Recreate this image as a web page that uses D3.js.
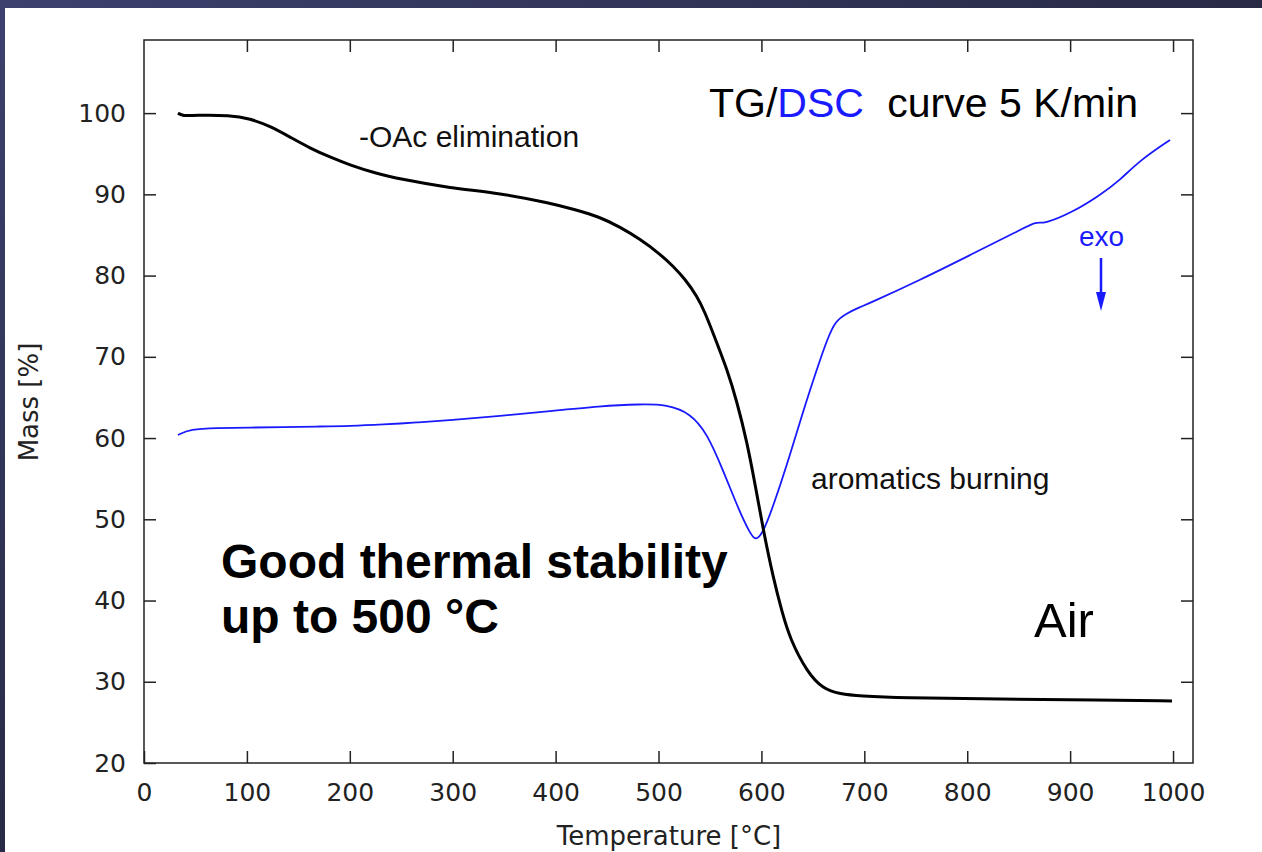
<!DOCTYPE html>
<head>
  <meta charset="utf-8">
  <script src="https://d3js.org/d3.v7.min.js"></script>
  <style>
    body { margin:0; background:#262a4a; overflow:hidden; }
  </style>
</head>
<body>
<script>
  var totalWidth = 1262, totalHeight = 852;

  // TG curve (mass, %) vs temperature (degC)
  var tgTemp = [33, 37.9, 49.6, 83.6, 103, 122.4, 141.9, 161.3, 180.8, 200.2, 224.5, 248.8, 297.4, 346, 394.6,
                418.9, 443.2, 462.6, 482, 501.5, 514.1, 525.8, 537.4, 545.2, 553, 566.6, 576.3, 586, 593.8,
                601.6, 611.3, 620, 627.8, 644.3, 659.9, 676.4, 695.8, 734.7, 831.9, 929.1, 999];
  var tgMass = [100, 99.63, 99.75, 99.75, 99.32, 98.4, 97.05, 95.69, 94.58, 93.6, 92.62, 91.88, 90.77, 90.15, 88.92,
                88.12, 87.2, 85.97, 84.49, 82.65, 81.17, 79.57, 77.47, 75.45, 72.92, 68.49, 64.43, 59.51, 54.34,
                48.8, 42.89, 38.58, 35.26, 31.2, 29.11, 28.49, 28.25, 28.0, 27.88, 27.75, 27.63];

  // DSC curve, drawn on the same axes
  var dscTemp = [33, 44.7, 70.9, 103, 135.1, 168.1, 200.2, 232.3, 265.3, 297.4, 346, 394.6, 443.2, 482, 508.3,
                 530.6, 547.1, 562.7, 579.2, 588.9, 593.8, 600.6, 611.3, 627.8, 640.4, 647.2, 656.9, 663.8, 671.5,
                 683.2, 695.8, 705.5, 754.1, 802.7, 851.3, 867.8, 873.7, 902.8, 929, 948.5, 967.9, 997.1];
  var dscValue = [60.37, 61.11, 61.23, 61.29, 61.35, 61.42, 61.48, 61.66, 61.91, 62.22, 62.71, 63.32, 63.94, 64.18, 64.12,
                  63.08, 60.62, 56.06, 50.77, 48.31, 47.4, 48.06, 51.51, 57.91, 63.2, 65.91, 69.6, 72.06, 74.4,
                  75.38, 76.12, 76.62, 79.45, 82.52, 85.6, 86.7, 86.3, 87.82, 89.9, 91.75, 94.2, 96.7];

  var xTicks = [0, 100, 200, 300, 400, 500, 600, 700, 800, 900, 1000];
  var yTicks = [20, 30, 40, 50, 60, 70, 80, 90, 100];

  var margin = {top: 40, left: 144, right: 69, bottom: 89};
  var width = totalWidth - margin.left - margin.right,
      height = totalHeight - margin.top - margin.bottom;

  var svg = d3.select("body").append("svg")
    .attr("width", totalWidth)
    .attr("height", totalHeight);

  // dark slide background on the edges
  var defs = svg.append("defs");
  var grad = defs.append("linearGradient").attr("id", "bg")
    .attr("x1", 0).attr("y1", 0).attr("x2", 1).attr("y2", 1);
  grad.append("stop").attr("offset", "0%").attr("stop-color", "#3c416e");
  grad.append("stop").attr("offset", "60%").attr("stop-color", "#24263d");
  grad.append("stop").attr("offset", "100%").attr("stop-color", "#2a2226");
  svg.append("rect").attr("width", totalWidth).attr("height", totalHeight).attr("fill", "url(#bg)");
  svg.append("rect").attr("x", 5).attr("y", 8)
    .attr("width", totalWidth - 5).attr("height", totalHeight - 8).attr("fill", "#fff");

  var g = svg.append("g")
    .attr("transform", "translate(" + margin.left + "," + margin.top + ")");

  var xScale = d3.scaleLinear().domain([0, 1019.4]).range([0, width]);
  var yScale = d3.scaleLinear().domain([20, 109]).range([height, 0]);

  var tickFont = "'DejaVu Sans', sans-serif";

  function styleAxis(sel) {
    sel.select(".domain").remove();
    sel.selectAll(".tick line").attr("stroke", "#222").attr("stroke-width", 1.5);
    sel.selectAll(".tick text").attr("fill", "#222").style("font-family", tickFont).style("font-size", "25px");
  }

  g.append("g")
    .attr("transform", "translate(0," + height + ")")
    .call(d3.axisBottom(xScale).tickValues(xTicks).tickFormat(d3.format("d"))
      .tickSizeInner(-12).tickSizeOuter(0).tickPadding(20))
    .call(styleAxis);

  g.append("g")
    .call(d3.axisTop(xScale).tickValues(xTicks.slice(1)).tickSizeInner(-12).tickSizeOuter(0).tickFormat(""))
    .call(styleAxis);

  g.append("g")
    .call(d3.axisLeft(yScale).tickValues(yTicks).tickFormat(d3.format("d"))
      .tickSizeInner(-12).tickSizeOuter(0).tickPadding(18))
    .call(styleAxis);

  g.append("g")
    .attr("transform", "translate(" + width + ",0)")
    .call(d3.axisRight(yScale).tickValues(yTicks.slice(1)).tickSizeInner(-12).tickSizeOuter(0).tickFormat(""))
    .call(styleAxis);

  g.append("rect")
    .attr("width", width).attr("height", height)
    .attr("fill", "none").attr("stroke", "#222").attr("stroke-width", 1.5);

  // basis spline smooths the hand-read points like the measured trace
  var line = d3.line()
    .x(function(d) { return xScale(d[0]); })
    .y(function(d) { return yScale(d[1]); })
    .curve(d3.curveBasis);

  g.append("path")
    .datum(dscTemp.map(function(t, i) { return [t, dscValue[i]]; }))
    .attr("d", line)
    .attr("fill", "none").attr("stroke", "#1a1aff").attr("stroke-width", 1.8);

  g.append("path")
    .datum(tgTemp.map(function(t, i) { return [t, tgMass[i]]; }))
    .attr("d", line)
    .attr("fill", "none").attr("stroke", "#000").attr("stroke-width", 3);

  // axis titles
  svg.append("text")
    .attr("x", 669).attr("y", 845)
    .attr("text-anchor", "middle")
    .style("font-family", tickFont).style("font-size", "26px").attr("fill", "#222")
    .text("Temperature [°C]");

  svg.append("text")
    .attr("transform", "translate(38,402) rotate(-90)")
    .attr("text-anchor", "middle")
    .style("font-family", tickFont).style("font-size", "26px").attr("fill", "#222")
    .text("Mass [%]");

  // annotations
  var sans = "'Liberation Sans', Arial, sans-serif";

  var title = svg.append("text")
    .attr("x", 709).attr("y", 117)
    .style("font-family", sans).style("font-size", "41px").attr("fill", "#000");
  title.append("tspan").text("TG/");
  title.append("tspan").attr("fill", "#1a1aff").text("DSC");
  title.append("tspan").attr("dx", 12).text(" curve 5 K/min");

  svg.append("text")
    .attr("x", 359).attr("y", 147)
    .style("font-family", sans).style("font-size", "30px").attr("fill", "#111")
    .text("-OAc elimination");

  svg.append("text")
    .attr("x", 811).attr("y", 489)
    .style("font-family", sans).style("font-size", "30px").attr("fill", "#111")
    .text("aromatics burning");

  svg.append("text")
    .attr("x", 1079).attr("y", 246)
    .style("font-family", sans).style("font-size", "28px").attr("fill", "#1a1aff")
    .text("exo");

  // exo arrow
  svg.append("line")
    .attr("x1", 1101).attr("y1", 258).attr("x2", 1101).attr("y2", 296)
    .attr("stroke", "#1a1aff").attr("stroke-width", 2.5);
  svg.append("path")
    .attr("d", "M1096,292 L1106,292 L1101,311 Z")
    .attr("fill", "#1a1aff");

  svg.append("text")
    .attr("x", 221).attr("y", 578)
    .style("font-family", sans).style("font-size", "48px").style("font-weight", "bold").attr("fill", "#000")
    .text("Good thermal stability");

  svg.append("text")
    .attr("x", 221).attr("y", 633)
    .style("font-family", sans).style("font-size", "48px").style("font-weight", "bold").attr("fill", "#000")
    .text("up to 500 °C");

  svg.append("text")
    .attr("x", 1034).attr("y", 637)
    .style("font-family", sans).style("font-size", "49px").attr("fill", "#000")
    .text("Air");
</script>
</body>
